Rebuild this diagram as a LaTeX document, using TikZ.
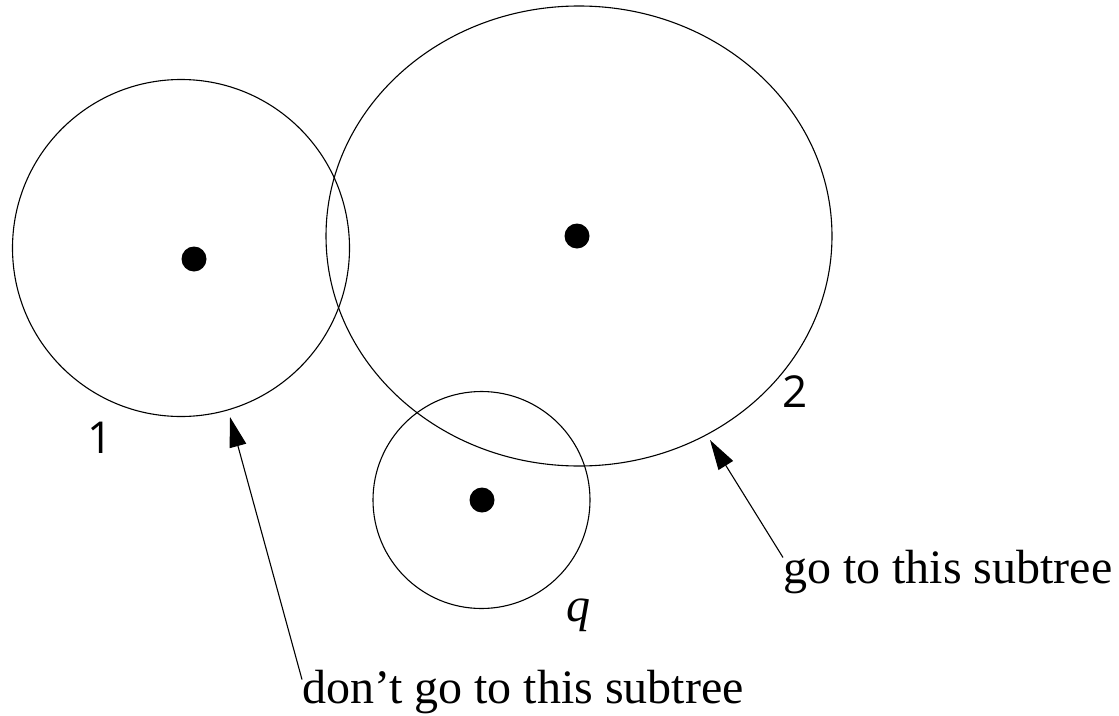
\documentclass[tikz,border=0pt]{standalone}
\usepackage{fontspec}
\setmainfont{Liberation Serif}
\newfontfamily\digitfont{Open Sans}
\usetikzlibrary{arrows.meta,shapes.geometric}
\begin{document}
\begin{tikzpicture}[x=1pt,y=-1pt,
  ring/.style={draw,line width=1.1pt,inner sep=0pt},
  blob/.style={circle,fill=black,inner sep=0pt,minimum size=25pt},
  pointer/.style={line width=1.1pt,-{Triangle[length=30pt,width=17pt]}},
  lbl/.style={inner sep=0pt,font=\fontsize{48}{52}\selectfont},
  num/.style={inner sep=0pt,font=\digitfont\fontsize{44}{48}\selectfont}]
\useasboundingbox (0,0) rectangle (1119,715);
\node[ring,circle,minimum size=337pt] (c1) at (181,248) {};
\node[ring,ellipse,minimum width=506pt,minimum height=460pt] (c2) at (579,236) {};
\node[ring,circle,minimum size=217pt] (cq) at (481.5,500) {};
\node[blob] (d1) at (194,259) {};
\node[blob] (d2) at (577,236) {};
\node[blob] (dq) at (482,500) {};
\node[num,anchor=base west] (n1) at (87,453) {1};
\node[num,anchor=base west] (n2) at (782,407) {2};
\node[lbl,anchor=base west] (nq) at (566,621) {\itshape q};
\node[lbl,anchor=base west] (go) at (783,583) {go to this subtree};
\node[lbl,anchor=base west] (dont) at (302,703) {don’t go to this subtree};
\coordinate (t1) at (230,417);
\coordinate (t2) at (710,440);
\draw[pointer] (dont.north west) ++(0,10) coordinate (s1) -- (t1);
\draw[pointer] (go.north west) ++(0,8) coordinate (s2) -- (t2);
\end{tikzpicture}
\end{document}
